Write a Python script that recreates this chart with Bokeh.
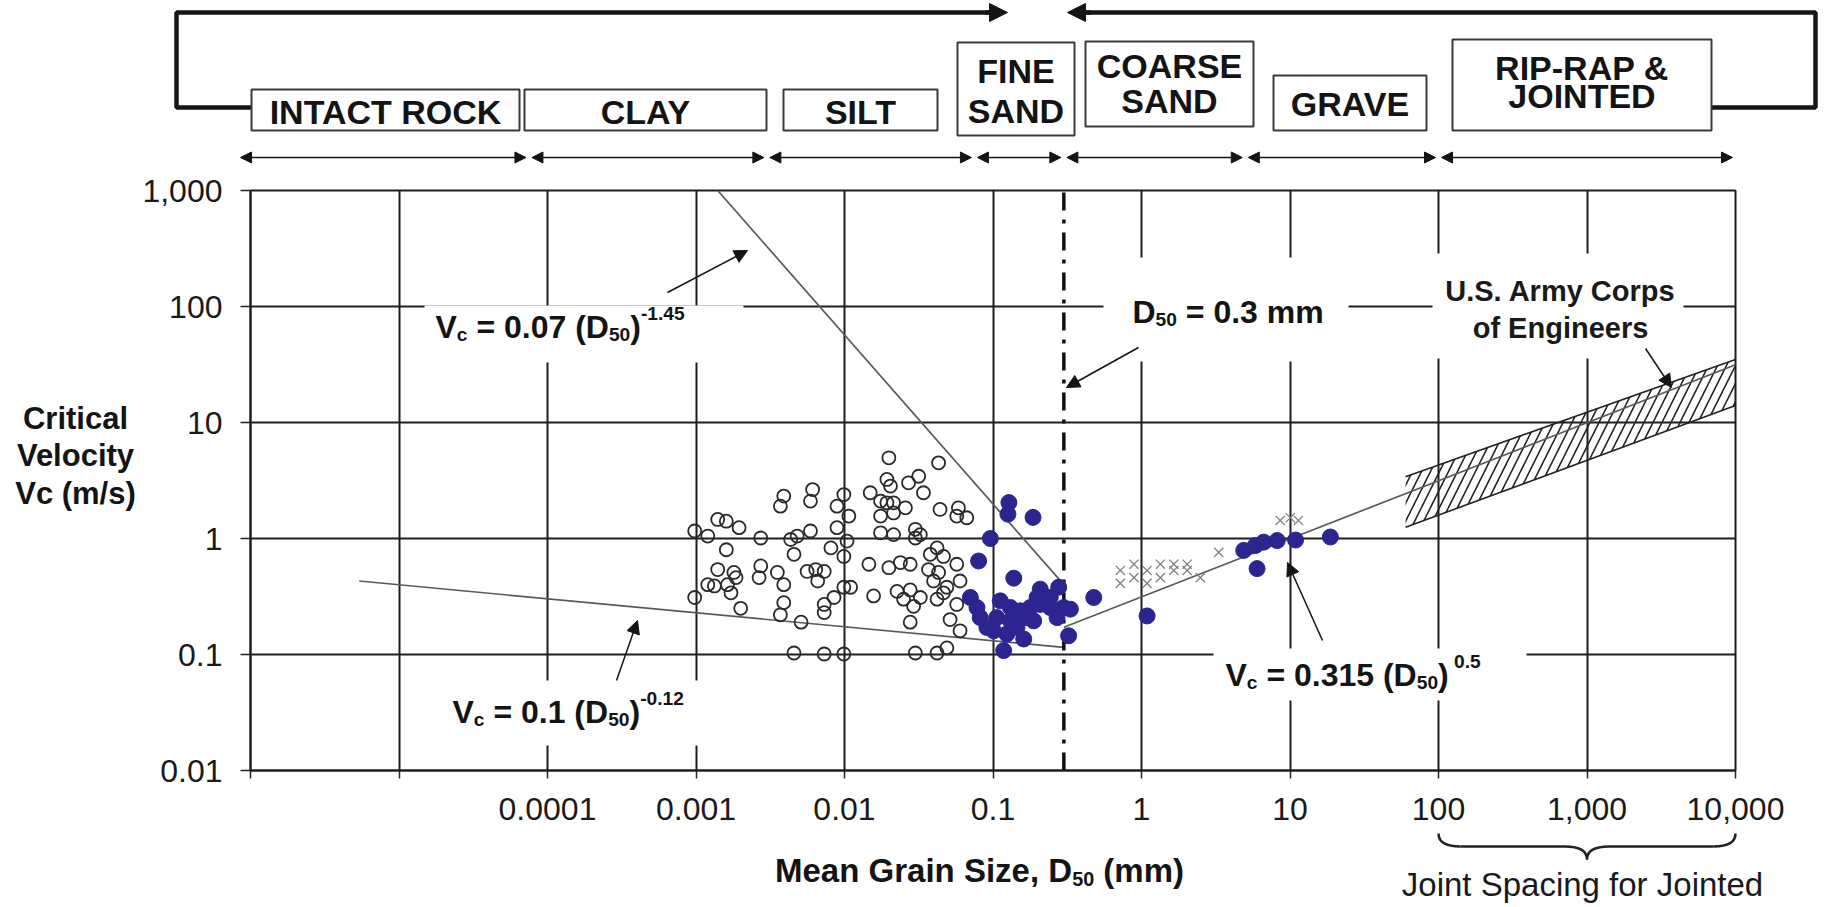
import math
from bokeh.plotting import figure
from bokeh.layouts import column, row
from bokeh.models import (Range1d, FixedTicker, CustomJSTickFormatter, Arrow,
                          NormalHead, ColumnDataSource)
from bokeh.core.properties import value
from bokeh.embed import file_html
from bokeh.resources import INLINE

# ----------------------------------------------------------------- data
SOIL_CLASSES = [["INTACT ROCK"], ["CLAY"], ["SILT"], ["FINE", "SAND"],
                ["COARSE", "SAND"], ["GRAVE"], ["RIP-RAP &", "JOINTED"]]
CLASS_BOUNDS_MM = [1e-6, 7.5e-5, 0.003, 0.075, 0.3, 5.0, 100.0, 10000.0]

X_TICKS = [1e-6, 1e-5, 1e-4, 1e-3, 1e-2, 1e-1, 1, 10, 100, 1000, 10000]
X_TICK_LABELS = ["", "", "0.0001", "0.001", "0.01", "0.1", "1", "10", "100", "1,000", "10,000"]
Y_TICKS = [0.01, 0.1, 1, 10, 100, 1000]
Y_TICK_LABELS = ["0.01", "0.1", "1", "10", "100", "1,000"]
Y_TITLE = ["Critical", "Velocity", "Vc (m/s)"]

# open circles (fine-grained soils)
ERODIBLE_D50 = [0.0199, 0.043, 0.0316, 0.027, 0.0193, 0.0204, 0.034, 0.0149, 0.0175, 0.0193,
                0.0214, 0.0257, 0.044, 0.0585, 0.0666, 0.057, 0.0175, 0.0214, 0.0061, 0.0059,
                0.0039, 0.0037, 0.0089, 0.0099, 0.0107, 0.0089, 0.0059, 0.0014, 0.0016, 0.00195,
                0.00098, 0.0012, 0.00273, 0.00434, 0.0048, 0.0175, 0.0214, 0.030, 0.030, 0.0324,
                0.0016, 0.00457, 0.0081, 0.0099, 0.0104, 0.0146, 0.0199, 0.0238, 0.0277, 0.0378,
                0.042, 0.0464, 0.057, 0.0368, 0.043, 0.0014, 0.0018, 0.00186, 0.00273, 0.00266,
                0.00353, 0.0039, 0.0056, 0.0064, 0.0066, 0.0073, 0.0099, 0.011, 0.0012, 0.00133,
                0.00163, 0.00172, 0.00098, 0.002, 0.0039, 0.0037, 0.0073, 0.0073, 0.0085, 0.0157,
                0.0226, 0.0277, 0.025, 0.0324, 0.0292, 0.042, 0.0398, 0.0489, 0.060, 0.0514,
                0.060, 0.0277, 0.0051, 0.0464, 0.057, 0.00457, 0.0073, 0.0099, 0.030, 0.042,
                0.0489]
ERODIBLE_VC = [4.96, 4.49, 3.44, 3.02, 3.23, 2.83, 2.48, 2.48, 2.10, 2.03,
               2.03, 1.84, 1.78, 1.84, 1.51, 1.56, 1.56, 1.66, 2.64, 2.10,
               2.32, 1.90, 1.90, 2.39, 1.56, 1.24, 1.16, 1.46, 1.41, 1.24,
               1.16, 1.05, 1.01, 0.98, 1.05, 1.12, 1.08, 1.20, 1.01, 1.08,
               0.80, 0.73, 0.83, 0.70, 0.95, 0.60, 0.56, 0.62, 0.60, 0.73,
               0.83, 0.70, 0.60, 0.54, 0.51, 0.54, 0.51, 0.46, 0.58, 0.46,
               0.51, 0.40, 0.52, 0.54, 0.43, 0.52, 0.38, 0.38, 0.40, 0.39,
               0.40, 0.34, 0.31, 0.25, 0.28, 0.22, 0.27, 0.23, 0.31, 0.32,
               0.35, 0.36, 0.30, 0.31, 0.26, 0.30, 0.43, 0.38, 0.43, 0.20,
               0.16, 0.19, 0.19, 0.34, 0.27, 0.103, 0.101, 0.101, 0.103, 0.103,
               0.114]

# filled dots (sands and gravels)
SAND_D50 = [0.128, 0.126, 0.186, 0.096, 0.080, 0.138, 0.208, 0.277, 0.477, 1.09,
            0.323, 0.161, 0.118, 0.0704, 0.078, 0.091, 0.112, 0.131, 0.153, 0.178,
            0.208, 0.243, 0.299, 0.332, 0.106, 0.131, 0.169, 0.101, 0.124, 0.198,
            0.243, 0.082, 0.145, 0.188, 0.27,
            4.88, 5.85, 6.65, 6.0, 8.2, 10.9, 18.7]
SAND_VC = [2.04, 1.62, 1.52, 1.0, 0.64, 0.455, 0.366, 0.38, 0.31, 0.215,
           0.145, 0.136, 0.108, 0.31, 0.254, 0.171, 0.29, 0.254, 0.238, 0.254,
           0.27, 0.254, 0.254, 0.246, 0.208, 0.195, 0.208, 0.16, 0.15, 0.31,
           0.31, 0.208, 0.171, 0.195, 0.208,
           0.79, 0.87, 0.93, 0.55, 0.96, 0.97, 1.03]

# cross markers
CROSS_D50 = [0.72, 0.72, 0.89, 0.89, 1.09, 1.09, 1.34, 1.34, 1.65, 1.65, 2.03, 2.03, 2.49, 3.31, 8.6, 10.05, 11.4]
CROSS_VC = [0.41, 0.53, 0.46, 0.60, 0.53, 0.41, 0.60, 0.46, 0.53, 0.60, 0.60, 0.53, 0.46, 0.76, 1.43, 1.51, 1.43]

# trend lines (end points)
FINE_LINE_D50 = [0.0014, 0.3]
FINE_LINE_VC = [1000, 0.40]
CLAY_LINE_D50 = [5.4e-6, 0.3]
CLAY_LINE_VC = [0.43, 0.115]
COARSE_LINE_D50 = [0.3, 10000]
COARSE_LINE_VC = [0.172, 31.5]
USACE_D50 = [60, 10000]
USACE_LOW = [1.25, 14.0]
USACE_HIGH = [3.4, 35.0]
D50_LIMIT = [0.3, 0.3]
D50_LIMIT_VC = [0.01, 1000]

# ----------------------------------------------------------------- layout
W = 1826
HEADER_H, MAIN_H, FOOTER_H = 165, 665, 77
TITLE_W = 138
FRAME_L, FRAME_R, FRAME_T, FRAME_B = 250, 1735, 190, 770
DEC_PX = (FRAME_R - FRAME_L) / 10.0
DEC_PY = (FRAME_B - FRAME_T) / 5.0
FONT = "Liberation Sans"
INK = "#141414"


def mx(px):  # canvas pixel -> mm on the shared log x scale
    return 10 ** (-6 + (px - FRAME_L) / DEC_PX)


def my(py):  # canvas pixel -> m/s on main plot
    return 10 ** (3 - (py - FRAME_T) / DEC_PY)


def no_align(fig):
    if "frame_align" in fig.properties():
        fig.frame_align = False


BOLD_W = {'V': 667, 'c': 556, ' ': 278, '=': 584, '.': 278, '(': 333, ')': 333, 'D': 722,
          '-': 333, 'm': 889, 'M': 833, 'e': 556, 'a': 556, 'n': 611, 'G': 778, 'r': 389,
          'i': 278, 'S': 667, 'z': 500, ',': 278}


def tw(s, size):
    return sum(BOLD_W.get(ch, 556) for ch in s) * size / 1000.0


def rich_text(fig, x, y, parts, size, align="left", color=INK):
    xs, ys, texts, dxs, dys, fss = [], [], [], [], [], []
    cur = 0.0
    for t, kind in parts:
        s = size if kind == "n" else size * 0.6
        lead = len(t) - len(t.lstrip(" "))
        trail = len(t) - len(t.rstrip(" "))
        core = t.strip(" ")
        cur += lead * 0.278 * s
        dy = 0.04 * size + {"n": 0.0, "sub": 0.24 * size, "sup": -0.40 * size}[kind]
        xs.append(x); ys.append(y); texts.append(core)
        dxs.append(cur); dys.append(dy); fss.append("%.1fpx" % s)
        cur += tw(core, s) + trail * 0.278 * s
    if align == "center":
        dxs = [d - cur / 2 for d in dxs]
    src = ColumnDataSource(dict(x=xs, y=ys, text=texts, dx=dxs, dy=dys, fs=fss))
    fig.text(x="x", y="y", text="text", x_offset="dx", y_offset="dy", text_font_size="fs",
             source=src, text_font=value(FONT), text_font_style="bold",
             text_baseline="middle", text_align="left", text_color=color)
    return cur


# ----------------------------------------------------------------- header
hdr = figure(width=W, height=HEADER_H, x_axis_type="log", x_range=Range1d(mx(0), mx(W)),
             y_range=Range1d(HEADER_H, 0), x_axis_location=None, y_axis_location=None,
             toolbar_location=None, output_backend="svg", min_border=0)
no_align(hdr)
hdr.grid.visible = False
hdr.outline_line_color = None

# big bracket
hdr.line(x=[mx(1000), mx(176), mx(176), mx(251)], y=[12, 12, 107, 107], line_width=4.5, line_color=INK)
hdr.line(x=[mx(1074), mx(1815), mx(1815), mx(1711)], y=[12, 12, 107, 107], line_width=4.5, line_color=INK)
hdr.add_layout(Arrow(end=NormalHead(size=18, fill_color=INK, line_color=INK), x_start=mx(985), y_start=12,
                     x_end=mx(1007), y_end=12, line_width=4.5, line_color=INK))
hdr.add_layout(Arrow(end=NormalHead(size=18, fill_color=INK, line_color=INK), x_start=mx(1090), y_start=12,
                     x_end=mx(1067), y_end=12, line_width=4.5, line_color=INK))

BOX_PX = [(251, 519, 89, 130), (524, 766, 89, 130), (783, 937, 89, 130), (957, 1074, 42, 135),
          (1085, 1253, 41, 126), (1273, 1426, 75, 130), (1452, 1711, 39, 130)]
LINE_Y = [[111], [111], [111], [70, 110], [65, 100], [103], [67, 95]]
hdr.quad(left=[mx(b[0]) for b in BOX_PX], right=[mx(b[1]) for b in BOX_PX],
         top=[b[2] for b in BOX_PX], bottom=[b[3] for b in BOX_PX],
         fill_color="white", line_color="#3a3a3a", line_width=2)
lx, ly, lt = [], [], []
for lines, ys, b in zip(SOIL_CLASSES, LINE_Y, BOX_PX):
    for t, yy in zip(lines, ys):
        lx.append(mx((b[0] + b[1]) / 2)); ly.append(yy); lt.append(t)
hdr.text(x=lx, y=ly, text=lt, text_align="center", text_baseline="middle",
         text_font=value(FONT), text_font_style="bold", text_font_size="34px", text_color=INK)

gap = 10 ** (3 / DEC_PX)
for a, b in zip(CLASS_BOUNDS_MM[:-1], CLASS_BOUNDS_MM[1:]):
    lo_gap = gap if a != CLASS_BOUNDS_MM[0] else 1 / 10 ** (10 / DEC_PX)
    hdr.add_layout(Arrow(start=NormalHead(size=11, fill_color=INK, line_color=INK),
                         end=NormalHead(size=11, fill_color=INK, line_color=INK),
                         x_start=a * lo_gap, x_end=b / gap, y_start=157, y_end=157,
                         line_width=1.6, line_color=INK))

# ----------------------------------------------------------------- y title panel
ttl = figure(width=TITLE_W, height=MAIN_H, x_range=Range1d(0, TITLE_W), y_range=Range1d(MAIN_H, 0),
             x_axis_location=None, y_axis_location=None, toolbar_location=None,
             output_backend="svg", min_border=0)
no_align(ttl)
ttl.grid.visible = False
ttl.outline_line_color = None
ttl.text(x=[75, 75, 75], y=[418 - HEADER_H, 455 - HEADER_H, 493 - HEADER_H], text=Y_TITLE,
         text_align="center", text_baseline="middle", text_font=value(FONT),
         text_font_style="bold", text_font_size="31px", text_color=INK)

# ----------------------------------------------------------------- main plot
p = figure(width=W - TITLE_W, height=MAIN_H, x_axis_type="log", y_axis_type="log",
           x_range=Range1d(1e-6, 1e4), y_range=Range1d(0.01, 1000),
           toolbar_location=None, output_backend="svg",
           min_border_left=FRAME_L - TITLE_W, min_border_right=W - FRAME_R,
           min_border_top=FRAME_T - HEADER_H, min_border_bottom=HEADER_H + MAIN_H - FRAME_B)
no_align(p)
p.outline_line_color = "#1e1e1e"
p.outline_line_width = 2
p.xaxis.ticker = FixedTicker(ticks=X_TICKS)
p.yaxis.ticker = FixedTicker(ticks=Y_TICKS)
p.xaxis.formatter = CustomJSTickFormatter(
    args=dict(labels=X_TICK_LABELS, lo=-6),
    code="const i = Math.round(Math.log10(tick)) - lo; return (i >= 0 && i < labels.length) ? labels[i] : '';")
p.yaxis.formatter = CustomJSTickFormatter(
    args=dict(labels=Y_TICK_LABELS, lo=-2),
    code="const i = Math.round(Math.log10(tick)) - lo; return (i >= 0 && i < labels.length) ? labels[i] : '';")
for ax in (p.xaxis, p.yaxis):
    ax.major_label_text_font = FONT
    ax.major_label_text_font_size = "32px"
    ax.major_label_text_color = "#1a1a1a"
    ax.axis_line_color = "#1e1e1e"
    ax.axis_line_width = 2
    ax.major_tick_line_color = "#222"
    ax.major_tick_line_width = 1.5
    ax.major_tick_in = 0
    ax.minor_tick_line_color = None
p.xaxis.major_tick_out = 8
p.xaxis.major_label_standoff = 19
p.yaxis.major_tick_out = 10
p.yaxis.major_label_standoff = 18
p.grid.grid_line_color = "#1e1e1e"
p.grid.grid_line_width = 2

# white label boxes interrupting the grid
BOXES = [(424, 743, 305, 362), (1103, 1348, 257, 361), (1432, 1683, 253, 358),
         (440, 705, 680, 745), (1213, 1526, 648, 700)]
p.quad(left=[mx(b[0]) for b in BOXES], right=[mx(b[1]) for b in BOXES],
       top=[my(b[2]) for b in BOXES], bottom=[my(b[3]) for b in BOXES],
       fill_color="white", line_color=None)

# USACE band
p.patch(x=[USACE_D50[0], USACE_D50[1], USACE_D50[1], USACE_D50[0]],
        y=[USACE_LOW[0], USACE_LOW[1], USACE_HIGH[1], USACE_HIGH[0]],
        fill_color=None, line_color=None, hatch_pattern="/", hatch_scale=18,
        hatch_weight=1.6, hatch_color="#222")
p.line(USACE_D50, USACE_LOW, line_color="#222", line_width=1.6)
p.line(USACE_D50, USACE_HIGH, line_color="#222", line_width=1.6)

# trend lines
for xs, ys in ((FINE_LINE_D50, FINE_LINE_VC), (CLAY_LINE_D50, CLAY_LINE_VC), (COARSE_LINE_D50, COARSE_LINE_VC)):
    p.line(xs, ys, line_color="#5a5a5a", line_width=1.7)
p.line(D50_LIMIT, D50_LIMIT_VC, line_color="#111", line_width=3.5, line_dash="18 9 4 9")

# points
p.scatter(CROSS_D50, CROSS_VC, marker="x", size=13, line_color="#808080", line_width=1.3)
p.scatter(ERODIBLE_D50, ERODIBLE_VC, marker="circle", size=13, fill_color=None,
          line_color="#2a2a2a", line_width=1.8)
p.scatter(SAND_D50, SAND_VC, marker="circle", size=16, fill_color="#2c2590",
          line_color="#2c2590", line_width=1)

# annotation arrows
ARROWS = [((667, 292), (747, 250)), ((1138, 347), (1066, 387)), ((616, 680), (637, 620)),
          ((1322, 640), (1287, 562)), ((1645, 348), (1671, 387))]
for (s, e) in ARROWS:
    p.add_layout(Arrow(end=NormalHead(size=13, fill_color=INK, line_color=INK, line_width=1),
                       x_start=mx(s[0]), y_start=my(s[1]), x_end=mx(e[0]), y_end=my(e[1]),
                       line_width=1.5, line_color=INK))

# equation labels
rich_text(p, mx(435), my(325), [("V", "n"), ("c", "sub"), (" = 0.07 (D", "n"), ("50", "sub"), (")", "n"), ("-1.45", "sup")], 32)
rich_text(p, mx(1132), my(310), [("D", "n"), ("50", "sub"), (" = 0.3 mm", "n")], 32)
rich_text(p, mx(452), my(710), [("V", "n"), ("c", "sub"), (" = 0.1 (D", "n"), ("50", "sub"), (")", "n"), ("-0.12", "sup")], 32)
rich_text(p, mx(1225), my(673), [("V", "n"), ("c", "sub"), (" = 0.315 (D", "n"), ("50", "sub"), (")", "n"), (" 0.5", "sup")], 32)
p.text(x=[mx(1560), mx(1560)], y=[my(290), my(327)], text=["U.S. Army Corps", "of Engineers"],
       text_align="center", text_baseline="middle", text_font=value(FONT), text_font_style="bold",
       text_font_size="29px", text_color="#1a1a1a")

# ----------------------------------------------------------------- footer
ftr = figure(width=W, height=FOOTER_H, x_axis_type="log", x_range=Range1d(mx(0), mx(W)),
             y_range=Range1d(FOOTER_H, 0), x_axis_location=None, y_axis_location=None,
             toolbar_location=None, output_backend="svg", min_border=0)
no_align(ftr)
ftr.grid.visible = False
ftr.outline_line_color = None
FOOT_TOP = HEADER_H + MAIN_H
rich_text(ftr, mx(979), 869 - FOOT_TOP, [("Mean Grain Size, D", "n"), ("50", "sub"), (" (mm)", "n")], 33, align="center")
ftr.text(x=[mx(1582)], y=[884 - FOOT_TOP], text=["Joint Spacing for Jointed"], text_align="center",
         text_baseline="middle", text_font=value(FONT), text_font_size="33px", text_color="#1a1a1a")
# brace under 100 .. 10,000
f = 10 ** (22 / DEC_PX)
lo_, mid_, hi_ = X_TICKS[8], X_TICKS[9], X_TICKS[10]
y_top, y_flat, y_tip = 833 - FOOT_TOP, 846 - FOOT_TOP, 859 - FOOT_TOP
ftr.quadratic(x0=[lo_, mid_ / f, mid_, hi_ / f], y0=[y_top, y_flat, y_tip, y_flat],
              x1=[lo_ * f, mid_, mid_ * f, hi_], y1=[y_flat, y_tip, y_flat, y_top],
              cx=[lo_, mid_, mid_, hi_], cy=[y_flat] * 4, line_color="#222", line_width=2.5)
ftr.segment(x0=[lo_ * f, mid_ * f], y0=[y_flat, y_flat], x1=[mid_ / f, hi_ / f], y1=[y_flat, y_flat],
            line_color="#222", line_width=2.5)

layout = column(hdr, row(ttl, p, spacing=0), ftr, spacing=0)
open("out.html", "w").write(file_html(layout, INLINE))
